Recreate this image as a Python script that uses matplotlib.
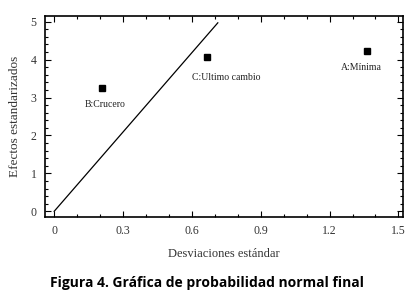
import matplotlib.pyplot as plt
from matplotlib.ticker import MultipleLocator

# effects (standardized) vs standard deviations
labels = ["A:Mínima", "B:Crucero", "C:Ultimo cambio"]
desv = [1.362, 0.208, 0.667]
efectos = [4.22, 3.25, 4.07]
label_offsets = [(-4, -12), (2, -12), (14, -15)]

# reference line through origin
line_x = [0.0, 0.713]
line_y = [0.0, 4.97]

serif = "Liberation Serif"

fig = plt.figure(figsize=(4.14, 2.97), dpi=100)
ax = fig.add_axes([45 / 414, 1 - 217 / 297, 358 / 414, 201 / 297])

ax.plot(line_x, line_y, color="black", linewidth=0.9)
ax.plot(desv, efectos, "s", color="black", markersize=4)
for lab, x, y, off in zip(labels, desv, efectos, label_offsets):
    ax.annotate(lab, (x, y), xytext=off, textcoords="offset points",
                ha="center", va="center", fontsize=7, family=serif,
                color="#222222")

ax.set_xlim(-0.04, 1.52)
ax.set_ylim(-0.15, 5.15)
ax.xaxis.set_major_locator(MultipleLocator(0.3))
ax.xaxis.set_minor_locator(MultipleLocator(0.1))
ax.yaxis.set_major_locator(MultipleLocator(1))
ax.yaxis.set_minor_locator(MultipleLocator(0.2))
ax.set_xticks([0, 0.3, 0.6, 0.9, 1.2, 1.5])
ax.set_xticklabels(["0", "0.3", "0.6", "0.9", "1.2", "1.5"])
ax.tick_params(which="both", direction="in", top=True, right=True,
               labelsize=8.5, width=0.8)
ax.tick_params(which="major", length=4, pad=6)
ax.tick_params(which="minor", length=2)
for t in ax.get_xticklabels() + ax.get_yticklabels():
    t.set_family(serif)
    t.set_color("#333333")
for s in ax.spines.values():
    s.set_linewidth(1.2)

ax.set_xlabel("Desviaciones estándar", fontsize=9, family=serif,
              color="#333333", labelpad=8)
ax.set_ylabel("Efectos estandarizados", fontsize=9.5, family=serif,
              color="#333333", labelpad=7)

fig.text(0.5, 1 - 283 / 297, "Figura 4. Gráfica de probabilidad normal final",
         ha="center", va="center", fontsize=10, fontweight="bold",
         family="Open Sans")

fig.savefig("out.png", dpi=100)
